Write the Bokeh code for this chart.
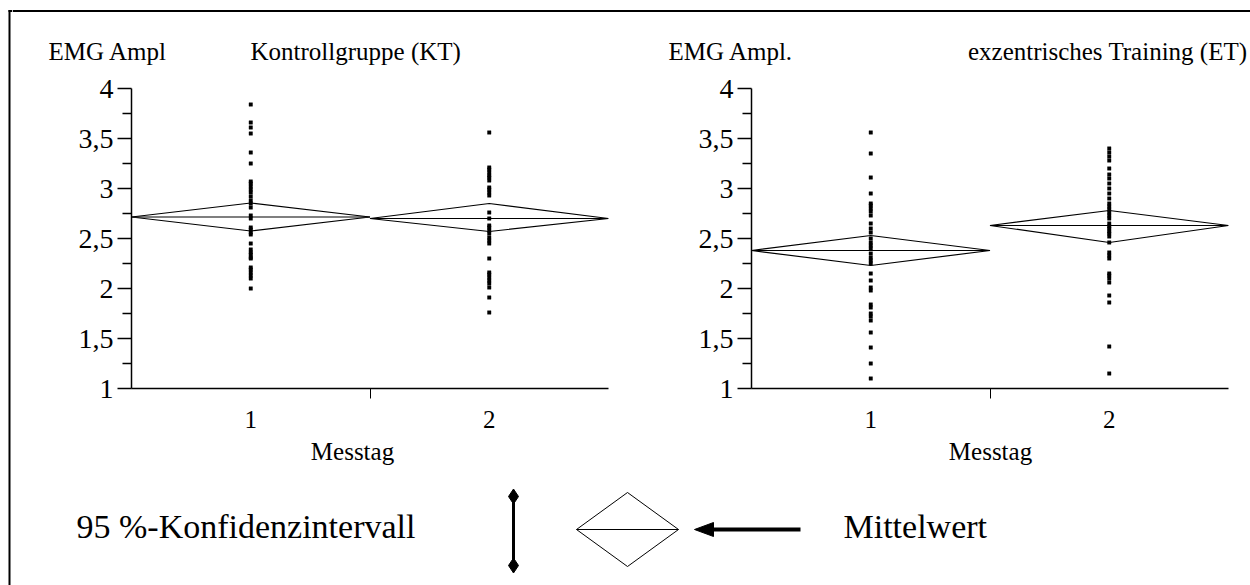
from bokeh.plotting import figure
from bokeh.models import Range1d, FixedTicker
from bokeh.layouts import column, row
from bokeh.embed import file_html
from bokeh.resources import INLINE
from bokeh.core.properties import value

FONT = "Liberation Serif"

# ---------------- data ----------------
days = [1, 2]
day_labels = ["1", "2"]
y_ticks = [1, 1.5, 2, 2.5, 3, 3.5, 4]
y_tick_labels = ["1", "1,5", "2", "2,5", "3", "3,5", "4"]
y_minor = [1.25, 1.75, 2.25, 2.75, 3.25, 3.75]

# Kontrollgruppe (KT)
kt_day1 = [3.84, 3.66, 3.61, 3.55, 3.36, 3.25, 3.07, 3.05, 3.02, 2.99, 2.96,
           2.92, 2.88, 2.85, 2.81, 2.73, 2.70, 2.61, 2.59, 2.56, 2.54, 2.45,
           2.39, 2.36, 2.34, 2.31, 2.30, 2.21, 2.19, 2.16, 2.13, 2.10, 2.00]
kt_day2 = [3.56, 3.21, 3.19, 3.16, 3.13, 3.11, 3.08, 3.01, 2.99, 2.96, 2.93,
           2.76, 2.70, 2.63, 2.61, 2.58, 2.55, 2.51, 2.48, 2.45, 2.30, 2.16,
           2.14, 2.11, 2.08, 2.05, 2.01, 1.91, 1.76]
kt_mean = [2.715, 2.70]
kt_ci_low = [2.575, 2.57]
kt_ci_high = [2.855, 2.85]

# exzentrisches Training (ET)
et_day1 = [3.56, 3.35, 3.11, 2.95, 2.85, 2.83, 2.80, 2.77, 2.73, 2.65, 2.60,
           2.56, 2.50, 2.46, 2.43, 2.40, 2.35, 2.31, 2.28, 2.25, 2.15, 2.08,
           2.01, 1.98, 1.84, 1.81, 1.75, 1.72, 1.68, 1.56, 1.41, 1.25, 1.10]
et_day2 = [3.40, 3.36, 3.32, 3.28, 3.20, 3.14, 3.10, 3.05, 3.00, 2.95, 2.90,
           2.85, 2.82, 2.79, 2.76, 2.73, 2.70, 2.65, 2.62, 2.60, 2.57, 2.55,
           2.52, 2.46, 2.36, 2.33, 2.30, 2.15, 2.13, 2.10, 2.06, 1.93, 1.86,
           1.42, 1.15]
et_mean = [2.38, 2.63]
et_ci_low = [2.23, 2.46]
et_ci_high = [2.53, 2.78]

titles_left = ["EMG Ampl", "EMG Ampl."]
titles_right = ["Kontrollgruppe (KT)", "exzentrisches Training (ET)"]
x_title = "Messtag"


def strip(width, height, x0, x1, y0, y1):
    s = figure(width=width, height=height, x_range=Range1d(x0, x1), y_range=Range1d(y1, y0),
               output_backend="svg", toolbar_location=None,
               x_axis_type=None, y_axis_type=None,
               min_border_left=0, min_border_right=0, min_border_top=0, min_border_bottom=0)
    s.outline_line_color = None
    s.grid.visible = False
    s.background_fill_color = "white"
    s.border_fill_color = "white"
    return s


def panel(values, mean, lo, hi, width, border_left, border_right):
    p = figure(width=width, height=362, x_range=Range1d(0, 2), y_range=Range1d(1, 4),
               output_backend="svg", toolbar_location=None,
               min_border_left=border_left, min_border_right=border_right,
               min_border_top=18, min_border_bottom=44)
    p.outline_line_color = None
    p.grid.visible = False
    p.background_fill_color = "white"
    p.border_fill_color = "white"

    ya = p.yaxis[0]
    xa = p.xaxis[0]
    for a in (ya, xa):
        a.axis_line_color = "black"
        a.axis_line_width = 1.5
        a.major_tick_line_color = "black"
        a.major_tick_line_width = 1.5
        a.minor_tick_line_color = "black"
        a.minor_tick_line_width = 1.5
        a.major_label_text_font = FONT
        a.major_label_text_color = "black"

    # y axis
    ya.ticker = FixedTicker(ticks=y_ticks, minor_ticks=y_minor)
    ya.major_label_overrides = {t: l for t, l in zip(y_ticks, y_tick_labels)}
    ya.major_tick_out = 14
    ya.major_tick_in = 0
    ya.minor_tick_out = 9
    ya.minor_tick_in = 0
    ya.major_label_standoff = 4
    ya.major_label_text_font_size = "28px"

    # x axis
    centers = [d - 0.5 for d in days]
    xa.ticker = FixedTicker(ticks=centers, minor_ticks=[1.0])
    xa.major_label_overrides = {c: l for c, l in zip(centers, day_labels)}
    xa.major_tick_out = 0
    xa.major_tick_in = 0
    xa.minor_tick_out = 10
    xa.minor_tick_in = 0
    xa.minor_tick_line_width = 1
    xa.major_label_standoff = 12
    xa.major_label_text_font_size = "25px"

    # points
    for c, vals in zip(centers, values):
        p.scatter(x=[c] * len(vals), y=vals, marker="square", size=3.5,
                  fill_color="black", line_color="black", line_width=0.4)

    # mean diamonds (mean line + 95% CI)
    xs = [[c - 0.5, c, c + 0.5, c] for c in centers]
    ys = [[m, h, m, l] for m, h, l in zip(mean, hi, lo)]
    p.patches(xs=xs, ys=ys, fill_color=None, line_color="black", line_width=1.2)
    p.segment(x0=[c - 0.5 for c in centers], x1=[c + 0.5 for c in centers],
              y0=mean, y1=mean, line_color="black", line_width=1.2)
    return p


# ---------------- left strip: frame left (full height) ----------------
left = strip(12, 585, 0, 12, 0, 585)
left.segment(x0=[9], x1=[9], y0=[9.5], y1=[585], line_color="black", line_width=2)
left.segment(x0=[8], x1=[12], y0=[10.5], y1=[10.5], line_color="black", line_width=2)

# ---------------- top strip: frame top + titles ----------------
top = strip(1238, 70, 12, 1250, 0, 70)
top.segment(x0=[12], x1=[1250], y0=[10.5], y1=[10.5], line_color="black", line_width=2)
tfont = dict(text_font=value(FONT), text_font_size=value("25px"),
             text_baseline="alphabetic", text_color="black")
top.text(x=[48, 668], y=[51, 51], text=titles_left, text_align="left", **tfont)
top.text(x=[250], y=[51], text=[titles_right[0]], text_align="left", **tfont)
top.text(x=[1247], y=[51], text=[titles_right[1]], text_align="right", **tfont)

# ---------------- panels ----------------
p1 = panel([kt_day1, kt_day2], kt_mean, kt_ci_low, kt_ci_high, 613, 119, 17)
p2 = panel([et_day1, et_day2], et_mean, et_ci_low, et_ci_high, 625, 126, 22)

# ---------------- bottom strip: axis titles + legend ----------------
p3 = strip(1238, 153, 12, 1250, 432, 585)
p3.text(x=[352, 990], y=[451, 451], text=[x_title, x_title], text_align="center", **tfont)

lfont = dict(text_font=value(FONT), text_font_size=value("34px"),
             text_baseline="alphabetic", text_color="black")
p3.text(x=[76], y=[526], text=["95 %-Konfidenzintervall"], text_align="left", **lfont)
p3.segment(x0=[513], x1=[513], y0=[496], y1=[565], line_color="black", line_width=3)
p3.scatter(x=[513, 513], y=[496, 565], marker="diamond", size=15,
           fill_color="black", line_color="black")
p3.patch(x=[576, 627, 678, 627], y=[529, 492, 529, 566], fill_color=None,
         line_color="black", line_width=1)
p3.segment(x0=[576], x1=[678], y0=[529], y1=[529], line_color="black", line_width=1)
p3.patch(x=[694, 713, 713], y=[529, 522, 536], fill_color="black", line_color="black")
p3.segment(x0=[710], x1=[800], y0=[529], y1=[529], line_color="black", line_width=4)
p3.text(x=[843], y=[526], text=["Mittelwert"], text_align="left", **lfont)

layout = row(left, column(top, row(p1, p2), p3))

open("out.html", "w").write(file_html(layout, INLINE))
